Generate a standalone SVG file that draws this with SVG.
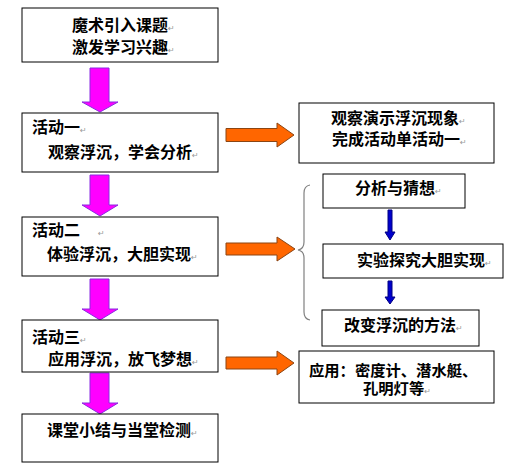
<svg xmlns="http://www.w3.org/2000/svg" width="514" height="474" viewBox="0 0 514 474">
<style>
.box{fill:#fff;stroke:#000;stroke-width:1}
.t{font-family:"Liberation Sans","Noto Sans CJK SC",sans-serif;font-size:16px;font-weight:700;fill:#000}
.s15{font-size:15.3px}
.pm{font-family:"DejaVu Sans",sans-serif;font-size:8px;font-weight:400;fill:#999}
.mag{fill:#ff00ff;stroke:#8a2be2;stroke-width:1}
.org{fill:#ff6600;stroke:#8b4513;stroke-width:1}
.blu{fill:#0000cc;stroke:#000080;stroke-width:1}
.brace{fill:none;stroke:#808080;stroke-width:1.2}
</style>
<rect width="514" height="474" fill="#fff"/>
<g id="connectors">
<path class="mag" d="M90,68H109V102H118L100,112L82,102H90Z"/>
<path class="mag" d="M90,175H109V205H118L100,216L82,205H90Z"/>
<path class="mag" d="M90,279H109V309H118L100,320L82,309H90Z"/>
<path class="mag" d="M90,373H109V403H118L100,414L82,403H90Z"/>
<path class="org" d="M226,128.5H277V123L294,135L277,147V141.5H226Z"/>
<path class="org" d="M226,243H277V237L295,249L277,261V255H226Z"/>
<path class="org" d="M226,357H277V351L294,363L277,375V369H226Z"/>
<path class="blu" d="M388,210H392V232H395L390,240L385,232H388Z"/>
<path class="blu" d="M388,281H392V297H395L390,304L385,297H388Z"/>
<path class="brace" d="M310,185Q304,186 304,193V242Q304,249 298,250Q304,251 304,258V312Q304,319 310,320"/>
</g>
<g id="n1">
<rect class="box" x="22" y="8" width="196" height="54"/>
<text class="t" x="72" y="31">魔术引入课题<tspan class="pm">↵</tspan></text>
<text class="t" x="72" y="53">激发学习兴趣<tspan class="pm">↵</tspan></text>
</g>
<g id="n2">
<rect class="box" x="22" y="113" width="196" height="59"/>
<text class="t" x="32" y="133">活动一<tspan class="pm">↵</tspan></text>
<text class="t" x="48" y="158">观察浮沉，学会分析<tspan class="pm">↵</tspan></text>
</g>
<g id="n3">
<rect class="box" x="22" y="217" width="196" height="59"/>
<text class="t" x="32" y="236">活动二<tspan class="pm" dx="18">↵</tspan></text>
<text class="t" x="47" y="260">体验浮沉，大胆实现<tspan class="pm">↵</tspan></text>
</g>
<g id="n4">
<rect class="box" x="22" y="320" width="196" height="52"/>
<text class="t" x="32" y="343">活动三<tspan class="pm">↵</tspan></text>
<text class="t" x="48" y="365">应用浮沉，放飞梦想<tspan class="pm">↵</tspan></text>
</g>
<g id="n5">
<rect class="box" x="22" y="414" width="196" height="48"/>
<text class="t" x="47" y="436">课堂小结与当堂检测<tspan class="pm">↵</tspan></text>
</g>
<g id="r1">
<rect class="box" x="299" y="103" width="195" height="60"/>
<text class="t" x="331" y="124">观察演示浮沉现象<tspan class="pm">↵</tspan></text>
<text class="t" x="332" y="145">完成活动单活动一<tspan class="pm">↵</tspan></text>
</g>
<g id="r2">
<rect class="box" x="323" y="174" width="142" height="34"/>
<text class="t" x="355" y="194">分析与猜想<tspan class="pm">↵</tspan></text>
</g>
<g id="r3">
<rect class="box" x="323" y="244" width="180" height="34"/>
<text class="t" x="357" y="266">实验探究大胆实现<tspan class="pm">↵</tspan></text>
</g>
<g id="r4">
<rect class="box" x="322" y="310" width="157" height="36"/>
<text class="t" x="344" y="331">改变浮沉的方法<tspan class="pm">↵</tspan></text>
</g>
<g id="r5">
<rect class="box" x="299" y="351" width="195" height="52"/>
<text class="t s15" x="309" y="376">应用：密度计、潜水艇、</text>
<text class="t s15" x="363" y="394">孔明灯等<tspan class="pm">↵</tspan></text>
</g>
</svg>
